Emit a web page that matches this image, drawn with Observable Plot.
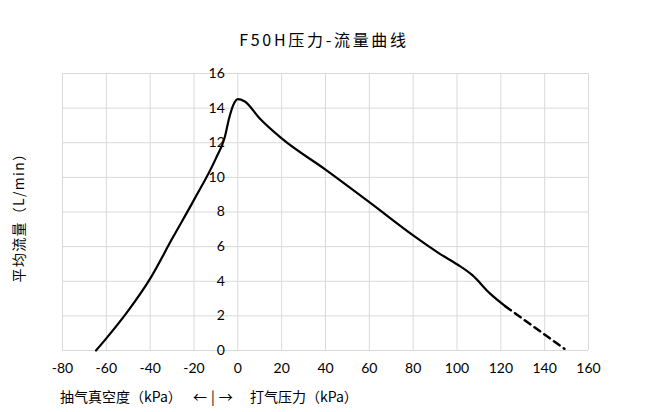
<!DOCTYPE html>
<html>
<head>
<meta charset="utf-8">
<script src="https://cdn.jsdelivr.net/npm/d3@7"></script>
<script src="https://cdn.jsdelivr.net/npm/@observablehq/plot@0.6"></script>
<style>
  html, body { margin: 0; padding: 0; background: #fff; }
  #wrap { position: relative; width: 645px; height: 412px; overflow: hidden; font-family: "Noto Sans CJK SC", sans-serif; color: #000; }
  #wrap svg { position: absolute; left: 0; top: 0; }
  .lbl { position: absolute; white-space: nowrap; font-size: 14px; line-height: 1; }
  #title { left: 0; width: 648px; top: 31px; text-align: center; font-size: 16px; letter-spacing: 2.7px; }
  #ylab { left: 18px; top: 214px; transform: translate(-50%, -50%) rotate(-90deg); letter-spacing: 1.3px; }
</style>
</head>
<body>
<div id="wrap">
  <div id="title" class="lbl">F50H压力-流量曲线</div>
  <div id="ylab" class="lbl">平均流量（L/min）</div>
  <div class="lbl" style="left:60px; top:389px;">抽气真空度（kPa）</div>
  <div class="lbl" style="left:193px; top:389px; letter-spacing:4px;">←|→</div>
  <div class="lbl" style="left:250px; top:389px;">打气压力（kPa）</div>
</div>
<script>
// Measured curve (solid part): pressure (kPa) and flow (L/min)
const pressure = [-64.7, -60, -50, -40, -30, -20, -10, -6, -4, -2, 0, 3, 10, 20, 40, 60, 80, 92, 100, 107, 115, 122];
const flow     = [0, 0.7, 2.3, 4.15, 6.45, 8.7, 11.1, 12.3, 13.4, 14.2, 14.52, 14.4, 13.4, 12.25, 10.45, 8.57, 6.65, 5.6, 4.98, 4.35, 3.3, 2.56];
// Extrapolated (dashed) part
const pressureDashed = [122, 149];
const flowDashed     = [2.56, 0.1];
// Ticks
const xTicks = [-80, -60, -40, -20, 0, 20, 40, 60, 80, 100, 120, 140, 160];
const yTicks = [0, 2, 4, 6, 8, 10, 12, 14, 16];

const solid = pressure.map((p, i) => ({p, f: flow[i]}));
const dashed = pressureDashed.map((p, i) => ({p, f: flowDashed[i]}));

const chart = Plot.plot({
  width: 645,
  height: 412,
  marginTop: 73,
  marginBottom: 62,
  marginLeft: 62,
  marginRight: 57,
  style: {fontFamily: "Lato, 'Open Sans', sans-serif", fontSize: "14px", color: "#000", background: "transparent"},
  x: {domain: [-80, 160]},
  y: {domain: [0, 16], axis: null},
  marks: [
    Plot.gridX(xTicks, {stroke: "#d9d9d9", strokeOpacity: 1, strokeWidth: 1}),
    Plot.gridY(yTicks, {stroke: "#d9d9d9", strokeOpacity: 1, strokeWidth: 1}),
    Plot.axisX(xTicks, {tickSize: 0, tickPadding: 13, fontSize: 14, label: null, tickFormat: d => String(d)}),
    Plot.text(yTicks, {x: () => 0, y: d => d, text: d => String(d), textAnchor: "end", dx: -13, fontSize: 14, fill: "#000"}),
    Plot.line(solid, {x: "p", y: "f", curve: "monotone-x", stroke: "#000", strokeWidth: 2.2}),
    Plot.line(dashed, {x: "p", y: "f", stroke: "#000", strokeWidth: 2.5, strokeDasharray: "7,5"})
  ]
});
document.getElementById("wrap").prepend(chart);
</script>
</body>
</html>
